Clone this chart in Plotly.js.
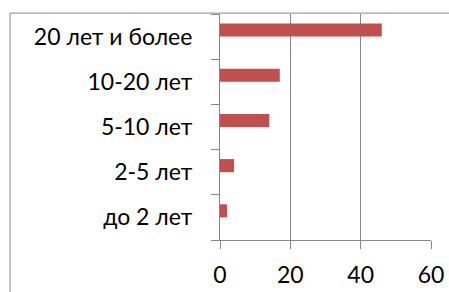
<!DOCTYPE html>
<html><head><meta charset="utf-8">
<script src="https://cdn.plot.ly/plotly-3.0.1.min.js"></script>
<style>html,body{margin:0;padding:0;background:#fff;}#chart{width:449px;height:292px;}</style>
</head><body><div id="chart"></div>
<script>
const categories = ["до 2 лет", "2-5 лет", "5-10 лет", "10-20 лет", "20 лет и более"];
const values = [2, 4, 14, 17, 46];
const xTicks = [0, 20, 40, 60];

const gray = "#868686";
const trace = {
  type: "bar", orientation: "h",
  x: values, y: categories,
  marker: {color: "#C0504D"},
  width: 0.29, offset: 0,
  hoverinfo: "none"
};
const layout = {
  width: 449, height: 292,
  margin: {l: 220, r: 18, t: 14, b: 52},
  paper_bgcolor: "#fff", plot_bgcolor: "#fff",
  showlegend: false,
  font: {family: "Lato, 'Open Sans', sans-serif", size: 23, color: "#000"},
  xaxis: {
    range: [0, 60], tickvals: xTicks, ticktext: xTicks.map(String),
    showgrid: true, gridcolor: gray, gridwidth: 1,
    showline: true, linecolor: gray, linewidth: 1,
    ticks: "outside", ticklen: 8, tickcolor: gray, tickwidth: 1,
    ticklabelstandoff: 6,
    zeroline: false, fixedrange: true,
    tickfont: {size: 23}
  },
  yaxis: {
    type: "category", categoryorder: "array", categoryarray: categories,
    range: [-0.5, 4.5],
    showgrid: false, showline: true, linecolor: gray, linewidth: 1,
    ticks: "outside", ticklen: 8, tickcolor: gray, tickwidth: 1, tickson: "boundaries",
    ticklabelstandoff: 22,
    zeroline: false, fixedrange: true,
    tickfont: {size: 23}
  },
  shapes: [
    {type: "line", xref: "paper", yref: "paper", x0: -0.995, x1: 1.2, y0: 1.004, y1: 1.004, line: {color: gray, width: 1}},
    {type: "line", xref: "paper", yref: "paper", x0: -0.995, x1: -0.995, y0: 1.004, y1: -0.4, line: {color: gray, width: 1}}
  ]
};
Plotly.newPlot("chart", [trace], layout, {displayModeBar: false, staticPlot: true});
</script></body></html>
